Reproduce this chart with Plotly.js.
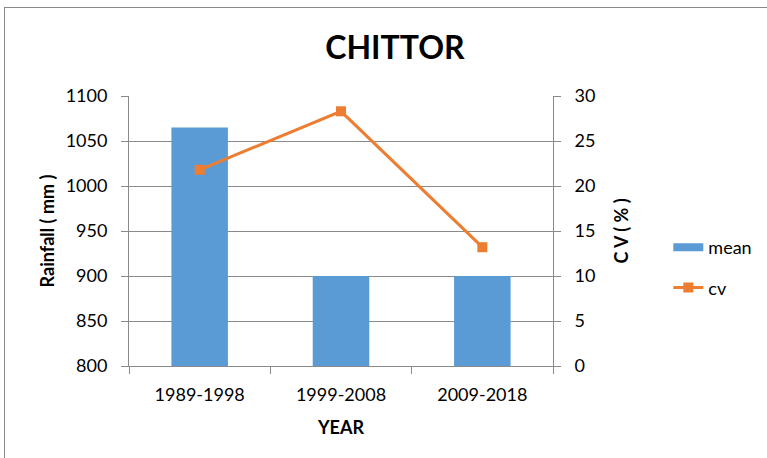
<!DOCTYPE html>
<html>
<head>
<meta charset="utf-8">
<script src="https://cdn.plot.ly/plotly-3.0.1.min.js"></script>
<style>
body{margin:0;padding:0;background:#fff;}
#chart{width:767px;height:458px;position:absolute;left:0;top:0;}
#frame{position:absolute;left:4px;top:7px;width:780px;height:470px;border:1px solid #8a8a8a;pointer-events:none;}
</style>
</head>
<body>
<div id="chart"></div>
<div id="frame"></div>
<script>
const categories = ["1989-1998", "1999-2008", "2009-2018"];
const meanValues = [1065, 900, 900];
const cvValues = [21.8, 28.3, 13.2];
const leftTicks = [800, 850, 900, 950, 1000, 1050, 1100];
const rightTicks = [0, 5, 10, 15, 20, 25, 30];

const font = "Lato, 'Open Sans', sans-serif";
const blue = "#5B9BD5";
const orange = "#ED7D31";

const traces = [
  {
    type: "bar", name: "mean", x: categories, y: meanValues,
    marker: {color: blue}, yaxis: "y", showlegend: false
  },
  {
    // legend-only entry drawn as a wide rectangle, like the reference
    type: "scatter", mode: "lines", name: "mean", x: [null], y: [null],
    line: {color: blue, width: 8}, legendgroup: "a", showlegend: true, hoverinfo: "skip"
  },
  {
    type: "scatter", mode: "lines+markers", name: "cv", x: categories, y: cvValues,
    line: {color: orange, width: 3}, marker: {symbol: "square", size: 10, color: orange},
    yaxis: "y2", legendgroup: "b"
  }
];

const layout = {
  width: 767, height: 458,
  margin: {l: 129, r: 214, t: 96, b: 92, autoexpand: false},
  paper_bgcolor: "#fff", plot_bgcolor: "#fff",
  font: {family: font, size: 18, color: "#000"},
  bargap: 0.6,
  showlegend: true,
  title: {text: "<b>CHITTOR</b>", font: {family: font, size: 32, color: "#000"}, x: 0.515, xanchor: "center", y: 0.895, yanchor: "middle"},
  xaxis: {
    type: "category", automargin: false,
    title: {text: "<b>YEAR</b>", font: {family: font, size: 18}, standoff: 17},
    showline: true, linecolor: "#8a8a8a", linewidth: 1,
    ticks: "outside", tickson: "boundaries", ticklen: 7, tickcolor: "#8a8a8a",
    ticklabelstandoff: 12,
    showgrid: false, tickfont: {size: 18}
  },
  yaxis: {
    range: [800, 1100], tickvals: leftTicks, ticktext: leftTicks.map(String), automargin: false,
    title: {text: "<b>Rainfall ( mm )</b>", font: {family: font, size: 18}, standoff: 6},
    showline: true, linecolor: "#8a8a8a", linewidth: 1,
    ticks: "outside", ticklen: 7, tickcolor: "#8a8a8a",
    ticklabelstandoff: 10,
    showgrid: true, gridcolor: "#8a8a8a", gridwidth: 1, zeroline: false,
    tickfont: {size: 18}
  },
  yaxis2: {
    range: [0, 30], tickvals: rightTicks, ticktext: rightTicks.map(String), automargin: false,
    overlaying: "y", side: "right",
    title: {text: "<b>C V ( % )</b>", font: {family: font, size: 18}, standoff: 20},
    showline: true, linecolor: "#8a8a8a", linewidth: 1,
    ticks: "outside", ticklen: 7, tickcolor: "#8a8a8a",
    ticklabelstandoff: 10,
    showgrid: false, zeroline: false, tickfont: {size: 18}
  },
  legend: {x: 1.272, xanchor: "left", y: 0.365, yanchor: "middle", font: {family: font, size: 18},
           traceorder: "grouped", tracegroupgap: 14, bgcolor: "rgba(0,0,0,0)"}
};

Plotly.newPlot("chart", traces, layout, {displayModeBar: false, staticPlot: true});
</script>
</body>
</html>
